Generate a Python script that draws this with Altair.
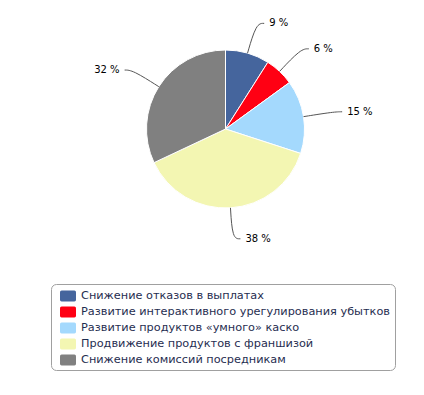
import math
import altair as alt
import pandas as pd

categories = [
    "Снижение отказов в выплатах",
    "Развитие интерактивного урегулирования убытков",
    "Развитие продуктов «умного» каско",
    "Продвижение продуктов с франшизой",
    "Снижение комиссий посредникам",
]
values = [9, 6, 15, 38, 32]
colors = ["#45659d", "#ff0013", "#a4d9fd", "#f3f6b2", "#808080"]
label_texts = [f"{v} %" for v in values]

W, H = 408, 379
CX, CY = 217.5, 121.0
R = 79
R_ELBOW = 110
HSEG = 8

pie_df = pd.DataFrame({"cat": categories, "val": values, "idx": list(range(len(values)))})

total = sum(values)
line_rows, text_rows = [], []
cum = 0.0
for i, (c, v, t) in enumerate(zip(categories, values, label_texts)):
    mid = (cum + v / 2) / total * 2 * math.pi
    cum += v
    s, co = math.sin(mid), math.cos(mid)
    side = 1 if s >= 0 else -1
    p0 = (CX + R * s, CY - R * co)
    p1 = (CX + R_ELBOW * s, CY - R_ELBOW * co)
    p2 = (p1[0] + side * HSEG, p1[1])
    for k, p in enumerate([p0, p1, p2]):
        line_rows.append({"cat": c, "pt": k, "x": p[0], "y": p[1]})
    text_rows.append({"cat": c, "label": t, "x": p2[0] + side * 5, "y": p2[1],
                      "align": "left" if side > 0 else "right"})

line_df = pd.DataFrame(line_rows)
text_df = pd.DataFrame(text_rows)

xs = alt.Scale(domain=[0, W], range=[0, W])
ys = alt.Scale(domain=[0, H], range=[0, H])

rounded = ("M-0.8,-0.68 L0.8,-0.68 Q1,-0.68 1,-0.48 L1,0.48 Q1,0.68 0.8,0.68 "
           "L-0.8,0.68 Q-1,0.68 -1,0.48 L-1,-0.48 Q-1,-0.68 -0.8,-0.68 Z")

pie = alt.Chart(pie_df).mark_arc(outerRadius=R, stroke="white", strokeWidth=1).encode(
    theta=alt.Theta("val:Q", stack=True),
    order=alt.Order("idx:Q"),
    x=alt.value(CX),
    y=alt.value(CY),
    color=alt.Color(
        "cat:N",
        scale=alt.Scale(domain=categories, range=colors),
        sort=categories,
        legend=alt.Legend(
            title=None,
            orient="none",
            legendX=43,
            legendY=276,
            symbolType=rounded,
            symbolSize=256,
            symbolStrokeWidth=0,
            symbolOffset=5,
            labelFont="DejaVu Sans",
            labelFontSize=11.3,
            labelColor="#1f2d50",
            labelLimit=400,
            labelOffset=5,
            rowPadding=2,
            padding=4,
            strokeColor="#a0a0a0",
            cornerRadius=5,
            fillColor="white",
        ),
    ),
)

lines = alt.Chart(line_df).mark_line(color="#555555", strokeWidth=1, interpolate="basis").encode(
    x=alt.X("x:Q", scale=xs, axis=None),
    y=alt.Y("y:Q", scale=ys, axis=None),
    detail="cat:N",
    order=alt.Order("pt:Q"),
)

texts_r = alt.Chart(text_df[text_df["align"] == "left"]).mark_text(
    align="left", baseline="middle", font="DejaVu Sans", fontSize=10, color="black"
).encode(x=alt.X("x:Q", scale=xs, axis=None), y=alt.Y("y:Q", scale=ys, axis=None), text="label:N")

texts_l = alt.Chart(text_df[text_df["align"] == "right"]).mark_text(
    align="right", baseline="middle", font="DejaVu Sans", fontSize=10, color="black"
).encode(x=alt.X("x:Q", scale=xs, axis=None), y=alt.Y("y:Q", scale=ys, axis=None), text="label:N")

chart = alt.layer(pie, lines, texts_r, texts_l).properties(
    width=W, height=H, padding=0, autosize=alt.AutoSizeParams(type="none")
).configure_view(stroke=None)

chart.save("out.html", embed_options={"renderer": "svg", "actions": False})
